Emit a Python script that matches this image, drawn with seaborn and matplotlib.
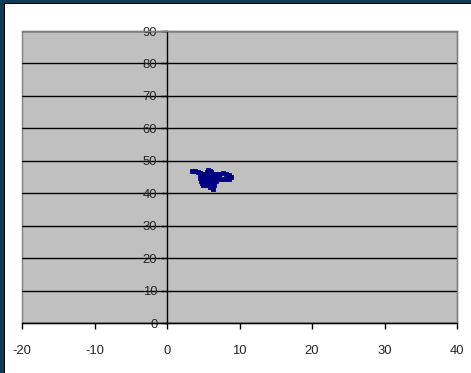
import matplotlib
matplotlib.use("Agg")
import matplotlib.pyplot as plt
from matplotlib.patches import Rectangle
import seaborn as sns
import pandas as pd

# ---- data ----
x_vals = [3.5, 3.9, 4.3, 4.6,
          5.7, 5.9, 5.5, 6.1,
          4.6, 5.0, 5.4, 5.8, 6.2, 6.6, 7.0,
          4.5, 4.9, 5.3, 5.7, 6.1, 6.5, 6.9,
          4.6, 5.0, 5.4, 5.8, 6.2, 6.6,
          4.7, 5.1, 5.5, 5.9, 6.3, 6.7,
          4.8, 5.2, 5.6, 6.0, 6.4,
          5.0, 5.4, 5.8, 6.2, 6.5,
          5.9, 6.2, 6.3,
          7.2, 7.7, 8.2, 8.6, 8.8, 8.5, 8.0, 7.5, 7.2, 7.0]
y_vals = [47.0, 46.9, 46.6, 46.3,
          47.2, 47.0, 46.6, 46.5,
          46.0, 46.0, 46.0, 46.0, 46.0, 46.0, 46.0,
          45.3, 45.3, 45.3, 45.3, 45.3, 45.3, 45.3,
          44.6, 44.6, 44.6, 44.6, 44.6, 44.6,
          43.9, 43.9, 43.9, 43.9, 43.9, 43.9,
          43.2, 43.2, 43.2, 43.2, 43.2,
          42.5, 42.5, 42.5, 42.5, 42.5,
          41.9, 41.9, 41.4,
          45.8, 46.1, 46.0, 45.6, 45.0, 44.5, 44.3, 44.4, 44.8, 45.5]
x_ticks = [-20, -10, 0, 10, 20, 30, 40]
y_ticks = [0, 10, 20, 30, 40, 50, 60, 70, 80, 90]

df = pd.DataFrame({"x": x_vals, "y": y_vals})

sns.set_style("white")
plt.rcParams["font.family"] = ["Liberation Sans Narrow", "Liberation Sans", "DejaVu Sans"]
plt.rcParams["axes.unicode_minus"] = False

W, H = 471, 373
fig = plt.figure(figsize=(W / 100, H / 100), dpi=100)
fig.patch.set_facecolor("white")

# outer frame (dark border on top/left)
dark = "#0f3c54"
fig.add_artist(Rectangle((0, 0), 4 / W, 1, transform=fig.transFigure, color=dark, lw=0, zorder=0))
fig.add_artist(Rectangle((0, 1 - 3 / H), 1, 3 / H, transform=fig.transFigure, color=dark, lw=0, zorder=0))
fig.add_artist(Rectangle((4 / W, 0), 1 / W, 1 - 3 / H, transform=fig.transFigure, color="black", lw=0, zorder=0))
fig.add_artist(Rectangle((4 / W, 1 - 4 / H), 1, 1 / H, transform=fig.transFigure, color="black", lw=0, zorder=0))

left, right, bottom, top = 22 / W, 457 / W, 1 - 323 / H, 1 - 31 / H
ax = fig.add_axes([left, bottom, right - left, top - bottom])
ax.set_facecolor("#c0c0c0")

sns.scatterplot(data=df, x="x", y="y", ax=ax, marker="s", s=11,
                color="#000080", edgecolor="#000080", linewidth=0.6, zorder=3)

ax.set_xlim(-20, 40)
ax.set_ylim(0, 90)
ax.set_xticks(x_ticks)
ax.set_yticks(y_ticks)
ax.set_xlabel("")
ax.set_ylabel("")

# gridlines
ax.yaxis.grid(True, color="black", linewidth=1.0)
ax.xaxis.grid(False)
ax.set_axisbelow(True)

# spines
ax.spines["left"].set_position(("data", 0))
ax.spines["left"].set_color("black")
ax.spines["left"].set_linewidth(1.0)
ax.spines["bottom"].set_color("black")
ax.spines["bottom"].set_linewidth(1.0)
ax.spines["top"].set_color("#808080")
ax.spines["right"].set_color("#808080")
ax.spines["top"].set_linewidth(1.0)
ax.spines["right"].set_linewidth(1.0)
ax.add_patch(Rectangle((0, 0), 1, 1, transform=ax.transAxes, fill=False,
                       edgecolor="#808080", linewidth=1.0, zorder=0.5, clip_on=False))

ax.tick_params(axis="x", direction="out", length=4, width=1, color="black",
               pad=12, labelsize=9.4, bottom=True)
ax.tick_params(axis="y", direction="out", length=4.5, width=1, color="black",
               pad=2.5, labelsize=9.4, left=True)

fig.savefig("out.png", dpi=100, facecolor="white")
